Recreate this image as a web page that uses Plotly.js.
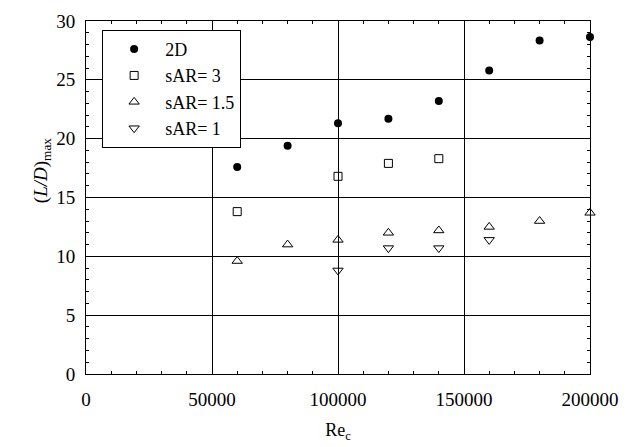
<!DOCTYPE html>
<html><head><meta charset="utf-8">
<script src="https://cdn.plot.ly/plotly-3.0.1.min.js"></script>
<style>body{margin:0;background:#fff}</style>
</head><body>
<div id="chart" style="width:627px;height:447px"></div>
<script>
const re2D = [60000, 80000, 100000, 120000, 140000, 160000, 180000, 200000];
const ld2D = [17.6, 19.4, 21.3, 21.7, 23.2, 25.8, 28.35, 28.65];
const reSAR3 = [60000, 100000, 120000, 140000];
const ldSAR3 = [13.8, 16.8, 17.9, 18.3];
const reSAR15 = [60000, 80000, 100000, 120000, 140000, 160000, 180000, 200000];
const ldSAR15 = [9.6, 11.0, 11.4, 12.0, 12.2, 12.5, 13.0, 13.7];
const reSAR1 = [100000, 120000, 140000, 160000];
const ldSAR1 = [8.8, 10.7, 10.7, 11.4];
const names = ['2D', 'sAR= 3', 'sAR= 1.5', 'sAR= 1'];
const xTitle = 'Re<sub>c</sub>';
const yTitle = '(<i>L/D</i>)<sub>max</sub>';

const serif = 'Liberation Serif';
const data = [
  {x: re2D, y: ld2D, name: names[0], mode: 'markers', type: 'scatter', cliponaxis: false, marker: {symbol: 'circle', size: 8, color: '#000'}},
  {x: reSAR3, y: ldSAR3, name: names[1], mode: 'markers', type: 'scatter', cliponaxis: false, marker: {symbol: 'square-open', size: 8, color: '#000', line: {width: 1}}},
  {x: reSAR15, y: ldSAR15, name: names[2], mode: 'markers', type: 'scatter', cliponaxis: false, marker: {symbol: 'triangle-up-open', size: 9, color: '#000', line: {width: 1}}},
  {x: reSAR1, y: ldSAR1, name: names[3], mode: 'markers', type: 'scatter', cliponaxis: false, marker: {symbol: 'triangle-down-open', size: 9, color: '#000', line: {width: 1}}}
];
const axisCommon = {
  showline: true, linecolor: '#000', linewidth: 1, mirror: 'ticks',
  ticks: 'inside', ticklen: 6, tickcolor: '#000',
  showgrid: true, gridcolor: '#000', gridwidth: 1, zeroline: false,
  tickfont: {family: serif, size: 19, color: '#000'}
};
const layout = {
  width: 627, height: 447,
  margin: {l: 86, r: 37, t: 21, b: 73},
  paper_bgcolor: '#fff', plot_bgcolor: '#fff',
  font: {family: serif, color: '#000', size: 16},
  showlegend: true,
  legend: {x: 0.032, y: 0.975, xanchor: 'left', yanchor: 'top',
    bgcolor: '#fff', bordercolor: '#000', borderwidth: 1,
    font: {family: serif, size: 18, color: '#000'}, itemwidth: 52},
  xaxis: Object.assign({}, axisCommon, {
    range: [0, 200000], dtick: 50000, tick0: 0, tickformat: 'd', ticklabelstandoff: 8,
    minor: {dtick: 10000, ticks: 'inside', ticklen: 3, tickcolor: '#000', showgrid: false},
    title: {text: xTitle, font: {family: serif, size: 18, color: '#000'}, standoff: 14}
  }),
  yaxis: Object.assign({}, axisCommon, {
    range: [0, 30], dtick: 5, tick0: 0, ticklabelstandoff: 6,
    minor: {dtick: 1, ticks: 'inside', ticklen: 3, tickcolor: '#000', showgrid: false}
  }),
  annotations: [{text: yTitle, xref: 'paper', yref: 'paper', x: -0.087, y: 0.575,
    xanchor: 'center', yanchor: 'middle', textangle: -90, showarrow: false,
    font: {family: serif, size: 19, color: '#000'}}]
};
Plotly.newPlot('chart', data, layout, {displayModeBar: false, staticPlot: true});
</script>
</body></html>
